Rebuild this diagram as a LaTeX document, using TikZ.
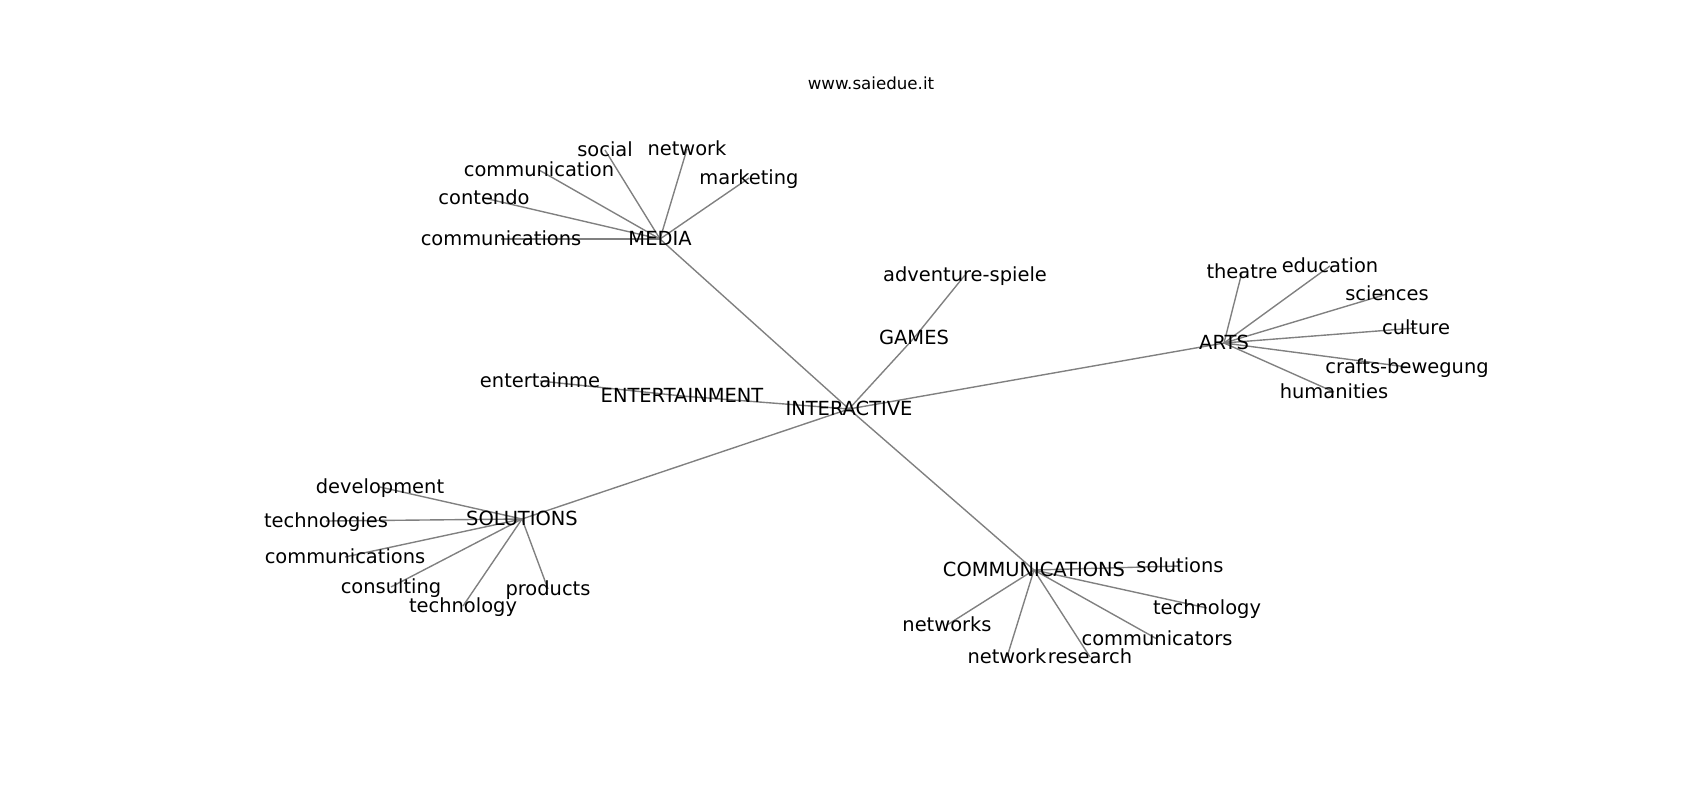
\documentclass[tikz,border=0pt]{standalone}
\usepackage{fontspec}
\setmainfont{DejaVu Sans}
\usetikzlibrary{backgrounds}
\begin{document}
\begin{tikzpicture}[x=0.72pt,y=-0.72pt,
  lbl/.style={font=\fontsize{14}{16}\selectfont, inner sep=0pt, text height=12.4pt, text depth=3.4pt},
  ttl/.style={font=\fontsize{12}{14}\selectfont, inner sep=0pt},
  edge/.style={draw=black!50, line width=1pt}]
\useasboundingbox (0,0) rectangle (1700,800);
\node[ttl] (title) at (871,83) {www.saiedue.it};
% hubs
\node[lbl] (int) at (849,409) {INTERACTIVE};
\node[lbl] (media) at (660,239) {MEDIA};
\node[lbl] (games) at (914,338) {GAMES};
\node[lbl] (ent) at (682,396) {ENTERTAINMENT};
\node[lbl] (arts) at (1224,343) {ARTS};
\node[lbl] (sol) at (522,519) {SOLUTIONS};
\node[lbl] (comm) at (1034,570) {COMMUNICATIONS};
% media leaves
\node[lbl] (m1) at (605,150) {social};
\node[lbl] (m2) at (687,149) {network};
\node[lbl] (m3) at (749,178) {marketing};
\node[lbl] (m4) at (539,170) {communication};
\node[lbl] (m5) at (484,198) {contendo};
\node[lbl] (m6) at (501,239) {communications};
% games, entertainment
\node[lbl] (g1) at (965,275) {adventure-spiele};
\node[lbl] (e1) at (540,381) {entertainme};
% arts leaves
\node[lbl] (a1) at (1242,272) {theatre};
\node[lbl] (a2) at (1330,266) {education};
\node[lbl] (a3) at (1387,294) {sciences};
\node[lbl] (a4) at (1416,328) {culture};
\node[lbl] (a5) at (1407,367) {crafts-bewegung};
\node[lbl] (a6) at (1334,392) {humanities};
% solutions leaves
\node[lbl] (s1) at (380,487) {development};
\node[lbl] (s2) at (326,521) {technologies};
\node[lbl] (s3) at (345,557) {communications};
\node[lbl] (s4) at (391,587) {consulting};
\node[lbl] (s5) at (463,606) {technology};
\node[lbl] (s6) at (548,589) {products};
% communications leaves
\node[lbl] (c1) at (1180,566) {solutions};
\node[lbl] (c2) at (1207,608) {technology};
\node[lbl] (c3) at (1157,639) {communicators};
\node[lbl] (c4) at (1090,657) {research};
\node[lbl] (c5) at (1007,657) {network};
\node[lbl] (c6) at (947,625) {networks};
\begin{scope}[on background layer]
\foreach \h in {media,games,ent,arts,sol,comm}
  \draw[edge] (int.center) -- (\h.center);
\foreach \l in {m1,m2,m3,m4,m5,m6}
  \draw[edge] (media.center) -- (\l.center);
\draw[edge] (games.center) -- (g1.center);
\draw[edge] (ent.center) -- (e1.center);
\foreach \l in {a1,a2,a3,a4,a5,a6}
  \draw[edge] (arts.center) -- (\l.center);
\foreach \l in {s1,s2,s3,s4,s5,s6}
  \draw[edge] (sol.center) -- (\l.center);
\foreach \l in {c1,c2,c3,c4,c5,c6}
  \draw[edge] (comm.center) -- (\l.center);
\end{scope}
\end{tikzpicture}
\end{document}
